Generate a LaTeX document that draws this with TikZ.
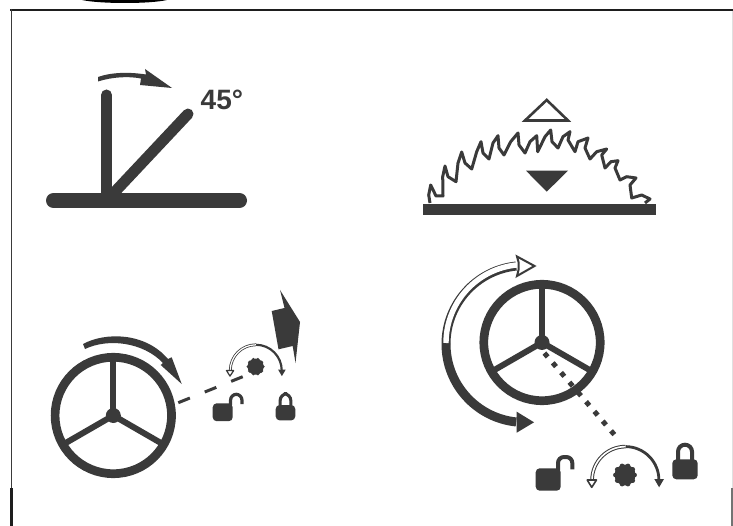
\documentclass[tikz,border=0pt]{standalone}
\usepackage{fontspec}
\setmainfont{Liberation Sans}
\usetikzlibrary{arrows.meta,calc,positioning}
\definecolor{PlateInk}{HTML}{3A3A3A}
\definecolor{PlateEdge}{HTML}{1E1E1E}
\tikzset{
  pics/wheel/.style={code={
    \draw[PlateInk,line width=8.7pt] (0,0) circle[radius=58.2];
    \foreach \a in {270,30,150}
      \draw[PlateInk,line width=6pt] (0,0) -- (\a:57);
    \fill[PlateInk] (0,0) circle[radius=7.5];
  }},
  pics/lockopen/.style={code={
    \begin{scope}[scale=#1]
      \fill[PlateInk,rounded corners=4pt] (0,0) rectangle (25,22.4);
      \draw[PlateInk,line width=#1*4pt,rounded corners=6pt] (22.3,2) -- (22.3,-11.3) -- (36.6,-11.3) -- (36.6,1);
    \end{scope}
  }},
  pics/lockshut/.style={code={
    \begin{scope}[scale=#1]
      \fill[PlateInk,rounded corners=4pt] (0,0) rectangle (25.4,20);
      \draw[PlateInk,line width=#1*4pt,rounded corners=7pt] (5.7,2) -- (5.7,-14.6) -- (19.7,-14.6) -- (19.7,2);
    \end{scope}
  }},
  pics/dial/.style={code={
    \begin{scope}[scale=#1]
      \fill[PlateInk] (-0.5,-5) circle[radius=10.5];
      \foreach \a in {0,36,...,324}
        \fill[PlateInk] ($(-0.5,-5)+(\a:9.5)$) circle[radius=2.4];
      \draw[PlateInk,line width=#1*2.8pt] (0,-33.4) arc[start angle=270,end angle=360,radius=33.4];
      \fill[PlateInk] (28.8,-1) -- (38.5,-1) -- (33.6,7.3) -- cycle;
      \draw[PlateInk,line width=#1*3.6pt] (0,-33.4) arc[start angle=270,end angle=180,radius=33.4];
      \draw[white,line width=#1*1.6pt] (0,-33.4) arc[start angle=270,end angle=180,radius=33.4];
      \draw[PlateInk,fill=white,line width=#1*1.6pt,line join=round] (-38.3,0) -- (-29,0) -- (-33.8,7.3) -- cycle;
    \end{scope}
  }}
}

\begin{document}
\begin{tikzpicture}[
    x=1pt,y=-1pt,
    plate/.style={PlateInk,line cap=round},
    solid ink/.style={fill=PlateInk,draw=none}
  ]
    \useasboundingbox (0,0) rectangle (733,526);
    \fill[white] (0,0) rectangle (733,526);

    % frame
    \fill[black] (82,0) .. controls (100,4) and (150,4) .. (167,0) -- cycle;
    \draw[PlateEdge,line width=2.4pt] (10,10) -- (733,10);
    \draw[PlateInk,line width=1.8pt] (11.5,9) -- (11.5,488);
    \draw[PlateEdge,line width=3pt] (11.5,488) -- (11.5,526);
    \draw[black!12,line width=1pt] (732,11) -- (732,488);
    \draw[black!55,line width=1.5pt] (732,488) -- (732,526);

    % bevel
    \draw[plate,line width=15pt] (53.5,200.5) -- (239.5,200.5);
    \draw[plate,line width=11pt] (106.5,95) -- (106.5,200);
    \draw[plate,line width=11pt] (110,197) -- (188,114);
    \fill[PlateInk] (98,77) .. controls (112,72) and (130,72) .. (146,74.5) -- (145,69) -- (172,88)
      -- (140,85) -- (141,78.5) .. controls (128,76) and (112,77) .. (98,81.5) -- cycle;
    \node[anchor=base west,inner sep=0pt,text=PlateInk,font=\fontsize{28}{30}\selectfont\bfseries] (angle45) at (200.5,110) {45°};

    % blade
    \fill[PlateInk] (423,204) rectangle (656,215);
    \draw[PlateInk,line width=3pt,line join=round]
      (430,203) -- (428.7,195) -- (430.7,185) -- (436,196) -- (443,196) -- (442.7,176.7) -- (445,166)
      -- (448,176.7) -- (456,181.7) -- (458,163) -- (461.7,152) -- (465,163) -- (471.7,169) -- (476.7,151.7)
      -- (481,141.7) -- (483,153) -- (489,159) -- (493,143) -- (498,135.7) -- (499,148) -- (504,155)
      -- (510.7,141.7) -- (518,133) -- (519,145) -- (525,153) -- (530,141.7) -- (536.7,135.7) -- (537.7,151.7)
      -- (545,136.7) -- (550.7,130) -- (552,141.7) -- (558,148) -- (563,136.7) -- (570,131.7) -- (568,140)
      -- (575,151.7) -- (578,141.7) -- (588,138) -- (585,148) -- (590,159) -- (596.7,151.7) -- (606.7,149)
      -- (601.7,155) -- (605,168) -- (611,161.7) -- (618,160.7) -- (615,168) -- (620,180) -- (626.7,176.7)
      -- (636,178) -- (630,185) -- (631.7,198) -- (641.7,195) -- (650,199) -- (645,203);
    \draw[PlateInk,fill=white,line width=2.6pt,line join=miter] (546.7,100) -- (525,120.5) -- (568,120.5) -- cycle;
    \fill[PlateInk] (526,170.7) -- (568,170.7) -- (546.7,191.7) -- cycle;

    % left wheel
    \pic at (113.3,415.5) {wheel};
    \fill[PlateInk] (83,344) .. controls (105,332) and (145,332) .. (168,359) -- (171.7,357.3) -- (181.7,384)
      -- (160.7,365) -- (163,363) .. controls (143,342) and (108,338) .. (85,349) -- cycle;
    \draw[PlateInk,line width=3pt,dash pattern=on 12.5pt off 16pt] (178.3,402.7) -- (242.7,376.7);
    \fill[PlateInk] (280,290) -- (300,322) -- (295.5,363) -- (292.7,346) -- (278.5,349.3) -- (271.7,311) -- (284.5,308) -- cycle;
    \pic at (256,370.5) {dial=0.77};
    \pic at (212.7,403.3) {lockopen=0.8};
    \pic at (275.7,405) {lockshut=0.77};

    % right wheel
    \pic at (542,342.5) {wheel};
    \draw[PlateInk,line width=5pt,dash pattern=on 5pt off 7.8pt] (544.4,353.1) -- (614.3,434.6);
    \draw[PlateInk,line width=9pt] (446,344) arc[start angle=180,end angle=96,radius=78.4];
    \fill[PlateInk] (516.7,411.7) -- (534,422.3) -- (516.7,432.7) -- cycle;
    \draw[PlateInk,line width=9pt] (446,344) arc[start angle=180,end angle=264,radius=78.4];
    \draw[white,line width=5.4pt] (446,343) arc[start angle=180,end angle=265,radius=78.4];
    \draw[PlateInk,fill=white,line width=2pt,line join=miter] (517,256.5) -- (534.5,266) -- (517,276) -- (518.5,270) -- (518.5,262) -- cycle;
    \pic at (625.5,480) {dial=1};
    \pic at (535.7,468.3) {lockopen=1};
    \pic at (672.3,459.3) {lockshut=1};
  \end{tikzpicture}
\end{document}
